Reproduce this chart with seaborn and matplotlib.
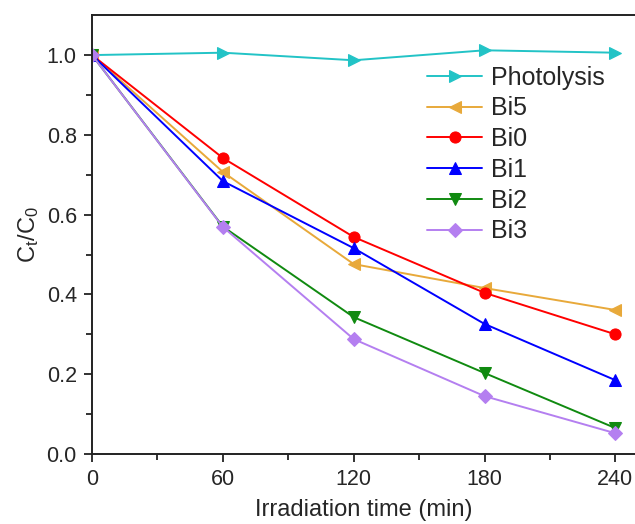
import numpy as np
import pandas as pd
import matplotlib
matplotlib.use("Agg")
import matplotlib.pyplot as plt
import seaborn as sns

time = [0, 60, 120, 180, 240]
photolysis = [1.0, 1.006, 0.987, 1.012, 1.006]
bi5 = [1.0, 0.707, 0.476, 0.416, 0.361]
bi0 = [1.0, 0.742, 0.544, 0.404, 0.300]
bi1 = [1.0, 0.684, 0.516, 0.326, 0.185]
bi2 = [1.0, 0.570, 0.343, 0.203, 0.065]
bi3 = [1.0, 0.569, 0.288, 0.145, 0.052]

series_names = ["Photolysis", "Bi5", "Bi0", "Bi1", "Bi2", "Bi3"]
series_values = [photolysis, bi5, bi0, bi1, bi2, bi3]
colors = ["#22c3c6", "#e8a93a", "#ff0000", "#0000ff", "#108a10", "#b47ff0"]
markers = [">", "<", "o", "^", "v", "D"]
msizes = [9, 9, 8, 9, 9, 7]

sns.set_theme(style="ticks")
plt.rcParams["font.family"] = ["Liberation Sans", "DejaVu Sans"]
plt.rcParams["mathtext.fontset"] = "custom"
plt.rcParams["mathtext.rm"] = "Liberation Sans"
plt.rcParams["mathtext.it"] = "Liberation Sans"

rows = []
for name, vals in zip(series_names, series_values):
    for t, v in zip(time, vals):
        rows.append({"time": t, "value": v, "series": name})
df = pd.DataFrame(rows)

fig = plt.figure(figsize=(6.35, 5.24), dpi=100)
ax = fig.add_axes([0.145, 0.1336, 0.855, 0.8374])

for name, c, m, ms in zip(series_names, colors, markers, msizes):
    sub = df[df["series"] == name]
    sns.lineplot(data=sub, x="time", y="value", ax=ax, color=c, marker=m,
                 markersize=ms, markeredgecolor=c, linewidth=1.4, label=name,
                 estimator=None, sort=False)

ax.set_xlim(0, 249)
ax.set_ylim(0, 1.1)
ax.set_xticks([0, 60, 120, 180, 240])
ax.set_xticks([30, 90, 150, 210], minor=True)
ax.set_yticks([0.0, 0.2, 0.4, 0.6, 0.8, 1.0])
ax.set_yticks([0.1, 0.3, 0.5, 0.7, 0.9], minor=True)
ax.set_yticklabels(["0.0", "0.2", "0.4", "0.6", "0.8", "1.0"])
ax.tick_params(axis="both", which="major", direction="out", length=6, width=1.3,
               labelsize=15.5, pad=5, color="#222222")
ax.tick_params(axis="both", which="minor", direction="out", length=4, width=1.3,
               color="#222222")
ax.set_xlabel("Irradiation time (min)", fontsize=17, labelpad=6)
ax.set_ylabel(r"$\mathregular{C_t/C_0}$", fontsize=17, labelpad=4)

for side in ["left", "bottom", "top"]:
    ax.spines[side].set_linewidth(1.4)
    ax.spines[side].set_color("#222222")
ax.spines["right"].set_visible(False)

leg = ax.legend(loc="upper left", bbox_to_anchor=(0.617, 0.885), frameon=False,
                fontsize=18, handlelength=2.2, labelspacing=0.27,
                handletextpad=0.36, borderaxespad=0.0, borderpad=0.0)

fig.savefig("out.png", dpi=100)
